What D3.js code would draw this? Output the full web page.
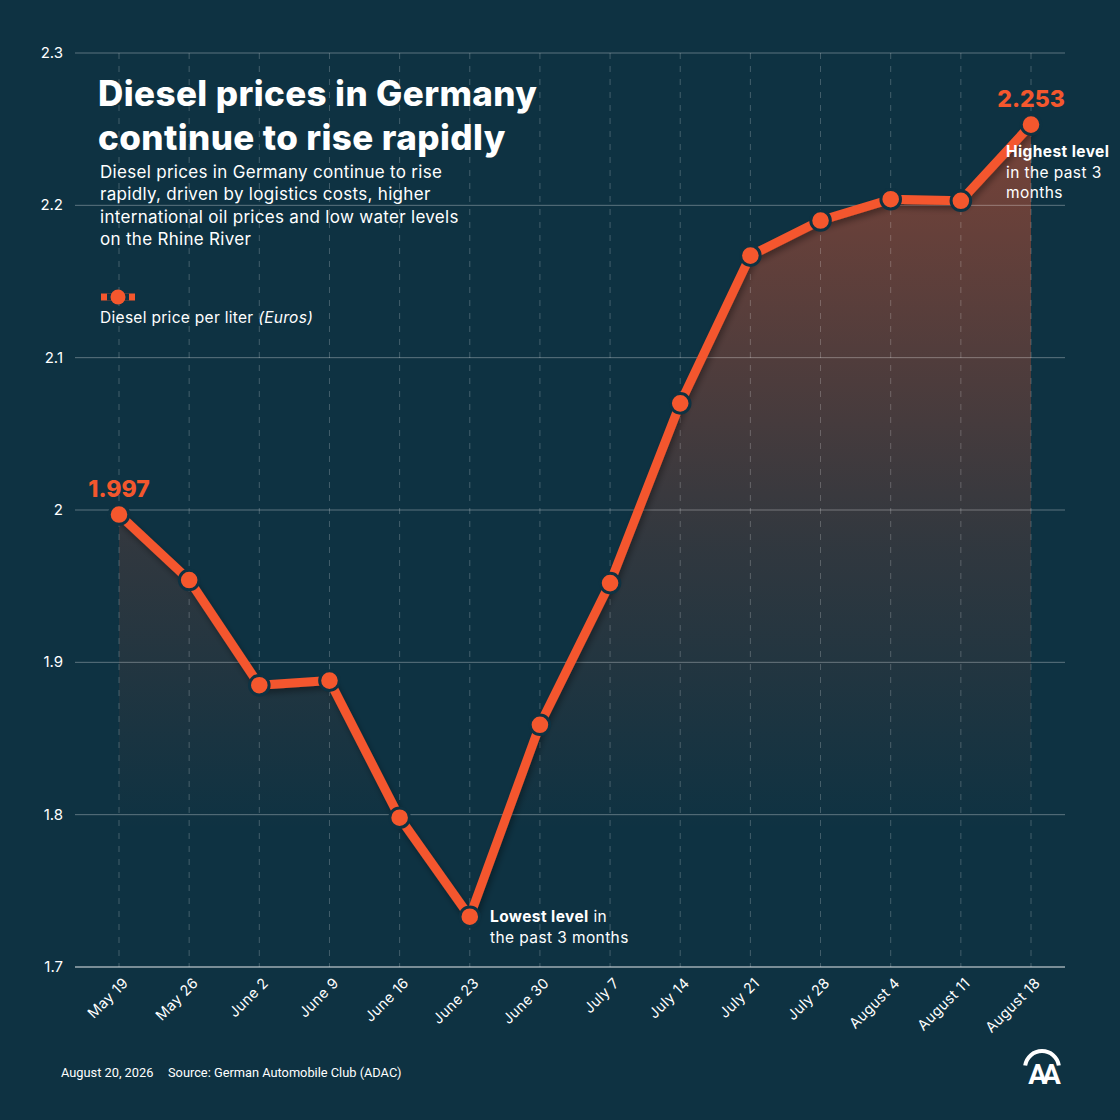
<!DOCTYPE html>
<html>
<head>
<meta charset="utf-8">
<script src="https://cdn.jsdelivr.net/npm/d3@7"></script>
<style>
  html, body { margin: 0; padding: 0; background: #0e3242; }
  svg { display: block; }
  .tick-label { font-family: Inter, "Open Sans", sans-serif; fill: #fff; }
</style>
</head>
<body>
<svg id="chart" width="1120" height="1120"></svg>
<script>
// weekly diesel price, euros per liter
const weeks = ["May 19", "May 26", "June 2", "June 9", "June 16", "June 23", "June 30",
               "July 7", "July 14", "July 21", "July 28", "August 4", "August 11", "August 18"];
const prices = [1.997, 1.954, 1.885, 1.888, 1.798, 1.733, 1.859,
                1.952, 2.070, 2.167, 2.190, 2.204, 2.203, 2.253];
const yTicks = [1.7, 1.8, 1.9, 2.0, 2.1, 2.2, 2.3];
const yTickLabels = ["1.7", "1.8", "1.9", "2", "2.1", "2.2", "2.3"];

const bg = "#0e3242";
const orange = "#f4572d";
const font = "Inter, 'Open Sans', sans-serif";
const svg = d3.select("#chart");
svg.append("rect").attr("width", 1120).attr("height", 1120).attr("fill", bg);

const xScale = d3.scalePoint().domain(weeks).range([119, 1031]);
const yScale = d3.scaleLinear().domain([1.7, 2.3]).range([967, 53]);

const defs = svg.append("defs");
const grad = defs.append("linearGradient")
    .attr("id", "areaFill")
    .attr("gradientUnits", "userSpaceOnUse")
    .attr("x1", 0).attr("x2", 0)
    .attr("y1", yScale(2.253)).attr("y2", 830);
grad.append("stop").attr("offset", "0%").attr("stop-color", orange).attr("stop-opacity", 0.46);
grad.append("stop").attr("offset", "60%").attr("stop-color", orange).attr("stop-opacity", 0.15);
grad.append("stop").attr("offset", "100%").attr("stop-color", orange).attr("stop-opacity", 0);

const shadow = defs.append("filter").attr("id", "shadow")
    .attr("x", "-10%").attr("y", "-10%").attr("width", "120%").attr("height", "120%");
shadow.append("feDropShadow").attr("dx", 2).attr("dy", 4).attr("stdDeviation", 3)
    .attr("flood-color", "#000").attr("flood-opacity", 0.35);

// area under the line
const area = d3.area()
    .x((d, i) => xScale(weeks[i]))
    .y0(yScale(1.7))
    .y1(d => yScale(d));
svg.append("path").datum(prices).attr("d", area).attr("fill", "url(#areaFill)");

// vertical dashed guides
svg.append("g").selectAll("line").data(weeks).join("line")
    .attr("x1", d => xScale(d)).attr("x2", d => xScale(d))
    .attr("y1", yScale(2.3)).attr("y2", yScale(1.7))
    .attr("stroke", "rgba(255,255,255,0.22)")
    .attr("stroke-width", 1)
    .attr("stroke-dasharray", "6,7");

// horizontal grid lines + y labels
const yAxis = svg.append("g");
yAxis.selectAll("line").data(yTicks).join("line")
    .attr("x1", 75).attr("x2", 1065)
    .attr("y1", d => yScale(d)).attr("y2", d => yScale(d))
    .attr("stroke", d => d === 1.7 ? "rgba(255,255,255,0.6)" : "rgba(255,255,255,0.32)")
    .attr("stroke-width", d => d === 1.7 ? 1.5 : 1);
yAxis.selectAll("text").data(yTicks).join("text")
    .attr("class", "tick-label")
    .attr("x", 63).attr("y", d => yScale(d) + 5)
    .attr("text-anchor", "end")
    .attr("font-size", 15)
    .text((d, i) => yTickLabels[i]);

// x labels
svg.append("g").selectAll("text").data(weeks).join("text")
    .attr("class", "tick-label")
    .attr("font-size", 14.5)
    .attr("letter-spacing", 0.3)
    .attr("text-anchor", "end")
    .attr("transform", d => `translate(${xScale(d) + 10},${yScale(1.7) + 17}) rotate(-45)`)
    .text(d => d);

// line + markers
const line = d3.line().x((d, i) => xScale(weeks[i])).y(d => yScale(d));
svg.append("path").datum(prices).attr("d", line)
    .attr("fill", "none").attr("stroke", orange).attr("stroke-width", 9)
    .attr("stroke-linejoin", "round").attr("filter", "url(#shadow)");
svg.append("g").selectAll("circle").data(prices).join("circle")
    .attr("cx", (d, i) => xScale(weeks[i]))
    .attr("cy", d => yScale(d))
    .attr("r", 9.8)
    .attr("fill", orange)
    .attr("stroke", bg)
    .attr("stroke-width", 3);

// value labels on first and last point
[0, prices.length - 1].forEach(i => {
    svg.append("text").attr("x", xScale(weeks[i])).attr("y", yScale(prices[i]) - 18)
        .attr("text-anchor", "middle").attr("font-family", font).attr("font-weight", 800)
        .attr("font-size", 23).attr("fill", orange).text(prices[i].toFixed(3));
});

// annotations
function note(x, y, lines) {
    const t = svg.append("text").attr("font-family", font).attr("font-size", 15.5)
        .attr("letter-spacing", 0.4).attr("fill", "#fff");
    lines.forEach((l, i) => {
        const ts = t.append("tspan").attr("x", x).attr("y", y + i * 20.5);
        l.forEach(part => ts.append("tspan").attr("font-weight", part[1] ? 700 : 400).text(part[0]));
    });
}
note(1006, 157, [[["Highest level", true]], [["in the past 3", false]], [["months", false]]]);
note(490, 922, [[["Lowest level", true], [" in", false]], [["the past 3 months", false]]]);

// title block
const title = ["Diesel prices in Germany", "continue to rise rapidly"];
svg.append("g").selectAll("text").data(title).join("text")
    .attr("x", 98).attr("y", (d, i) => 106 + i * 44)
    .attr("font-family", font).attr("font-weight", 800)
    .attr("font-size", 35).attr("letter-spacing", 0.4).attr("fill", "#fff")
    .text(d => d);

const sub = ["Diesel prices in Germany continue to rise",
             "rapidly, driven by logistics costs, higher",
             "international oil prices and low water levels",
             "on the Rhine River"];
svg.append("g").selectAll("text").data(sub).join("text")
    .attr("x", 100).attr("y", (d, i) => 178 + i * 22.4)
    .attr("font-family", font).attr("font-size", 17).attr("letter-spacing", 0.3).attr("fill", "#fff")
    .text(d => d);

// legend
const lg = svg.append("g");
lg.append("rect").attr("x", 101).attr("y", 293.5).attr("width", 34).attr("height", 7).attr("fill", orange);
lg.append("rect").attr("x", 107).attr("y", 293.5).attr("width", 22).attr("height", 7).attr("fill", bg);
lg.append("circle").attr("cx", 118).attr("cy", 297).attr("r", 7.5).attr("fill", orange);
const lt = lg.append("text").attr("x", 100).attr("y", 323).attr("font-family", font)
    .attr("font-size", 15.5).attr("letter-spacing", 0.3).attr("fill", "#fff");
lt.append("tspan").text("Diesel price per liter ");
lt.append("tspan").attr("font-style", "italic").text("(Euros)");

// footer
svg.append("text").attr("x", 61).attr("y", 1077).attr("font-family", "Roboto, sans-serif")
    .attr("font-size", 12.8).attr("fill", "#fff").text("August 20, 2026");
svg.append("text").attr("x", 168).attr("y", 1077).attr("font-family", "Roboto, sans-serif")
    .attr("font-size", 12.8).attr("fill", "#fff").text("Source: German Automobile Club (ADAC)");

// AA logo
const logo = svg.append("g").attr("transform", "translate(1042,1068)");
logo.append("path")
    .attr("d", d3.arc().innerRadius(15).outerRadius(19).startAngle(-Math.PI / 2.2).endAngle(Math.PI / 2.2)())
    .attr("fill", "#fff");
logo.append("text").attr("x", 0).attr("y", 16).attr("text-anchor", "middle")
    .attr("font-family", "Roboto, sans-serif").attr("font-weight", 700).attr("font-size", 28)
    .attr("letter-spacing", -5).attr("fill", "#fff").text("AA");
</script>
</body>
</html>
